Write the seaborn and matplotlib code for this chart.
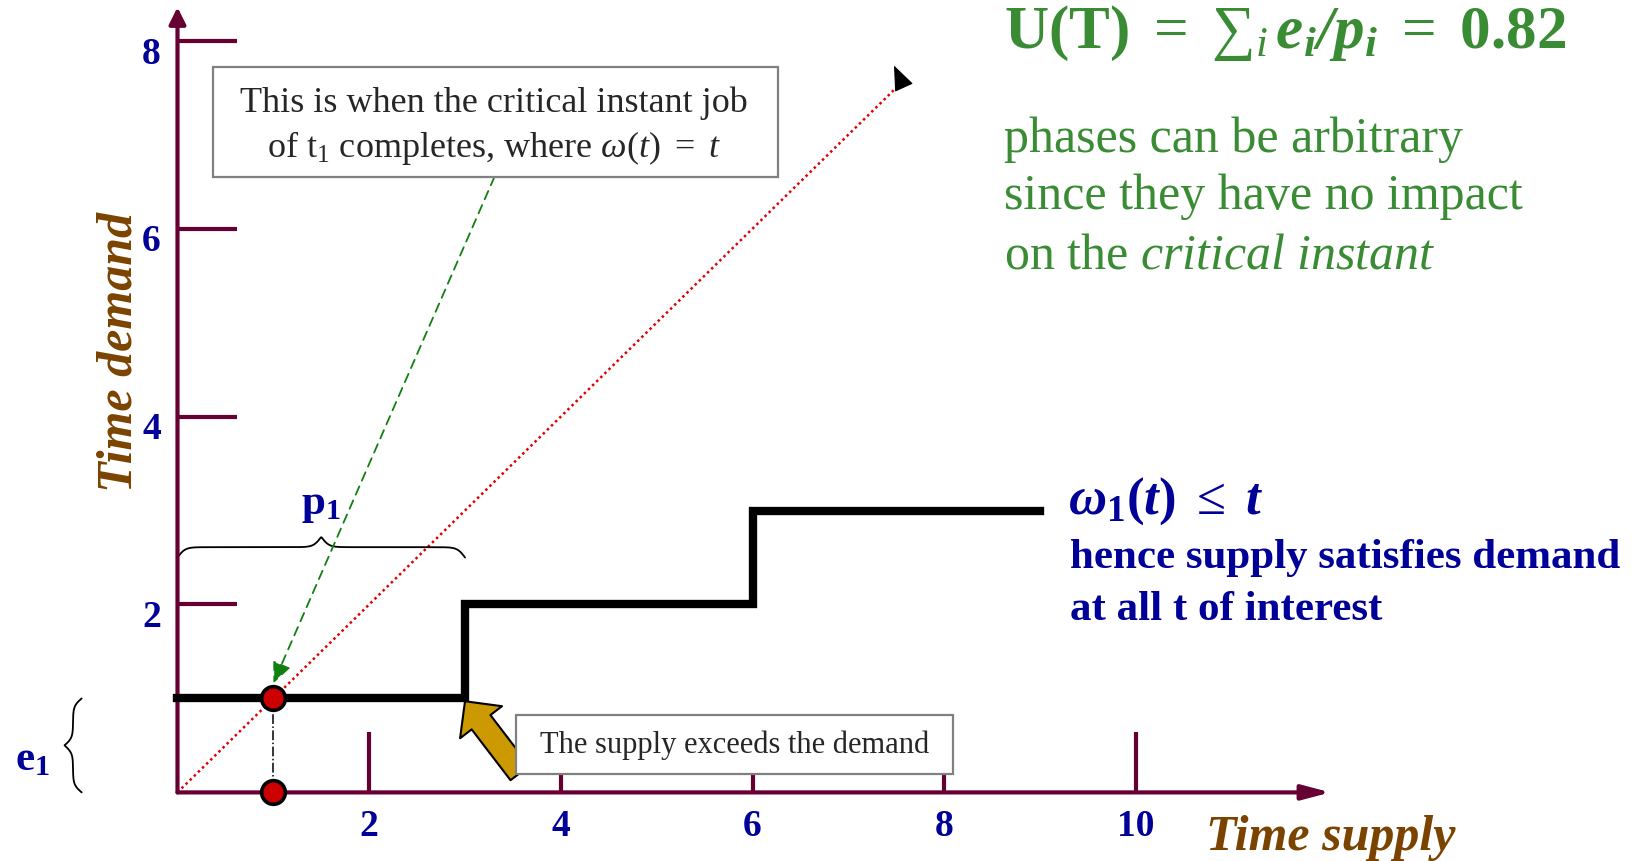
import numpy as np
import matplotlib.pyplot as plt
from matplotlib.patches import Rectangle
from matplotlib.transforms import ScaledTranslation
import seaborn as sns

# demand staircase of task t1: cumulative demand vs. supplied time
supply_t = [0, 3, 6, 9]
demand = [1, 2, 3, 3]
# w(t) = t reference line
diag_t = [0, 7.556]
# critical instant: first job of t1 completes at t = 1
crit_t = [1, 1]
crit_w = [1, 0]
x_ticks = [2, 4, 6, 8, 10]
y_ticks = [2, 4, 6, 8]
p1_span = [0, 3]
e1_span = [0, 1]

box1_lines = ["This is when the critical instant job",
              r"of $\mathrm{t}_1$ completes, where $\omega(t)\ =\ t$"]
box2_text = "The supply exceeds the demand"
formula = r"$\mathbf{U(T)}\ =\ {\sum}_{i}\,\mathbfit{e_i/p_i}\ =\ \mathbf{0.82}$"
green_lines = ["phases can be arbitrary",
               "since they have no impact",
               r"on the $\mathit{critical\ instant}$"]
blue_title = r"$\mathbfit{\omega}_{\mathbf{1}}\mathbf{(}\mathbfit{t}\mathbf{)}\ \leq\ \mathbfit{t}$"
blue_lines = ["hence supply satisfies demand", "at all t of interest"]

axis_col = "#660033"
blue = "#000099"
brown = "#7B4300"
green = "#3A8C34"
gold = "#CC9900"

sns.set_theme(style="white")
plt.rcParams["font.family"] = ["Liberation Serif", "DejaVu Serif"]
plt.rcParams["mathtext.fontset"] = "custom"
plt.rcParams["mathtext.rm"] = "Liberation Serif"
plt.rcParams["mathtext.it"] = "Liberation Serif:italic"
plt.rcParams["mathtext.bf"] = "Liberation Serif:bold"
plt.rcParams["mathtext.bfit"] = "Liberation Serif:bold:italic"


def curly_brace(a, b, k=25):
    # brace shape from two logistic steps, -0.5 at the ends, +0.5 at the tip
    t = np.linspace(a, b, 400)
    d = np.minimum(t - a, b - t)
    half = (b - a) / 2
    h = 1 / (1 + np.exp(-k * d)) + 1 / (1 + np.exp(-k * (d - half))) - 1
    return t, h


fig = plt.figure(figsize=(16.37, 8.62), dpi=100)
ax = fig.add_axes([0, 0, 1, 1])
ax.set_xlim(-1.852, 15.229)
ax.set_ylim(-0.730, 8.444)

# axes through the origin with arrow ends
for side in ["top", "right", "left", "bottom"]:
    ax.spines[side].set_visible(False)
ax.spines["left"].set_position(("data", 0))
ax.spines["bottom"].set_position(("data", 0))
ax.annotate("", xy=(12.03, 0), xytext=(0, 0),
            arrowprops=dict(arrowstyle="-|>,head_length=1.7,head_width=0.45",
                            color=axis_col, lw=3, mutation_scale=10,
                            shrinkA=0, shrinkB=0))
ax.annotate("", xy=(0, 8.356), xytext=(0, 0),
            arrowprops=dict(arrowstyle="-|>,head_length=1.0,head_width=0.5",
                            color=axis_col, lw=3, mutation_scale=10,
                            shrinkA=0, shrinkB=0))

ax.set_xticks(x_ticks)
ax.set_yticks(y_ticks)
ax.tick_params(direction="in", length=43, width=3, color=axis_col,
               labelcolor=blue, labelsize=27,
               bottom=True, left=True, top=False, right=False)
ax.tick_params(axis="x", pad=11)
ax.tick_params(axis="y", pad=12)
plt.setp(ax.get_xticklabels() + ax.get_yticklabels(), fontweight="bold")
# y labels sit a little below their ticks in the original
for lab in ax.get_yticklabels():
    lab.set_transform(lab.get_transform() + ScaledTranslation(0, -6 / 72, fig.dpi_scale_trans))
ax.grid(False)

ax.set_xlabel("Time supply", fontsize=36, fontweight="bold", fontstyle="italic",
              color=brown, va="baseline")
ax.xaxis.set_label_coords(1331 / 1637, 1 - 850 / 862)
ax.set_ylabel("Time demand", fontsize=36, fontweight="bold", fontstyle="italic",
              color=brown, va="center")
ax.yaxis.set_label_coords(120 / 1637, 1 - 351.7 / 862)

# the curves
sns.lineplot(x=supply_t, y=demand, drawstyle="steps-post", color="black", lw=6,
             solid_capstyle="projecting", solid_joinstyle="miter", ax=ax, zorder=3)
sns.lineplot(x=diag_t, y=diag_t, color="#E00000", lw=1.8, linestyle=(0, (1, 1.3)),
             ax=ax, zorder=2)
ax.annotate("", xy=(diag_t[-1] - 0.08, diag_t[-1] + 0.18), xytext=(diag_t[-1], diag_t[-1]),
            arrowprops=dict(arrowstyle="-|>,head_length=1.0,head_width=0.4",
                            color="black", lw=0.8, mutation_scale=16,
                            shrinkA=0, shrinkB=0))
sns.lineplot(x=crit_t, y=crit_w, color="black", lw=1.1, linestyle="-.",
             estimator=None, sort=False, ax=ax, zorder=3)
sns.scatterplot(x=crit_t, y=crit_w, s=290, color="#CC0000", edgecolor="black",
                linewidth=2.6, ax=ax, zorder=5, legend=False)

# callout 1 with green dashed arrow
ax.annotate("", xy=(crit_t[0], crit_w[0] + 0.16), xytext=(3.307, 6.55),
            arrowprops=dict(arrowstyle="-|>,head_length=0.8,head_width=0.35",
                            color="#108010", lw=1.3, linestyle=(0, (5, 3.5)),
                            mutation_scale=16, shrinkA=0, shrinkB=0))
ax.add_patch(Rectangle((0.375, 6.546), 5.891, 1.171, fc="white", ec="#808080",
                       lw=1.6, zorder=6))
ax.text(3.3, 7.255, box1_lines[0], ha="center", va="baseline", fontsize=26, zorder=7)
ax.text(3.3, 6.776, box1_lines[1], ha="center", va="baseline", fontsize=26, zorder=7)

# callout 2 with gold block arrow
ax.annotate("", xy=(supply_t[1], demand[0] - 0.03), xytext=(3.573, 0.206),
            arrowprops=dict(arrowstyle="simple,head_length=0.95,head_width=1.9,tail_width=0.85",
                            fc=gold, ec="black", lw=1.5, mutation_scale=20,
                            shrinkA=0, shrinkB=0), zorder=4)
ax.add_patch(Rectangle((3.532, 0.196), 4.563, 0.631, fc="white", ec="#808080",
                       lw=1.6, zorder=6))
ax.text(5.81, 0.431, box2_text, ha="center", va="baseline", fontsize=22, zorder=7)

# braces for p1 and e1
bx, bh = curly_brace(*p1_span)
ax.plot(bx, 2.61 + 0.22 * bh, color="black", lw=1.3)
ax.text(np.mean(p1_span), 2.97, r"$\mathbf{p}_\mathbf{1}$", ha="center", va="baseline",
        fontsize=31, color=blue)
by, bv = curly_brace(*e1_span)
ax.plot(-1.09 - 0.18 * bv, by, color="black", lw=1.3)
ax.text(-1.518, 0.249, r"$\mathbf{e}_\mathbf{1}$", ha="center", va="baseline",
        fontsize=31, color=blue)

# side notes (formula nudged down so it stays inside the canvas)
ax.text(8.624, 7.93, formula, ha="left", va="baseline", fontsize=44, color=green)
for yb, line in zip([6.829, 6.216, 5.588], green_lines):
    ax.text(8.624, yb, line, ha="left", va="baseline", fontsize=36, color=green)
ax.text(9.29, 2.98, blue_title, ha="left", va="baseline", fontsize=38, color=blue)
for yb, line in zip([2.396, 1.846], blue_lines):
    ax.text(9.31, yb, line, ha="left", va="baseline", fontsize=31,
            fontweight="bold", color=blue)

fig.savefig("out.png", dpi=100)
